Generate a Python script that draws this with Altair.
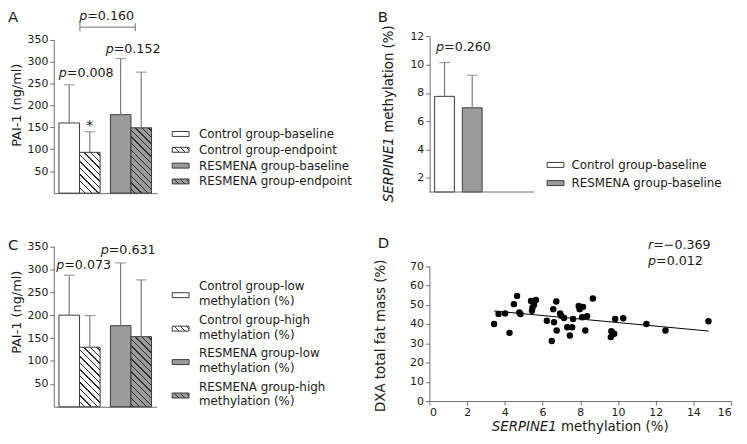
import math
import altair as alt
import pandas as pd

FONT = "DejaVu Sans"
TXT = "#1a1a1a"
AXC = "#6e6e6e"
EDGE = "#3a3a3a"
WHISK = "#7a7a7a"
GRAY = "#9b9b9b"
HATCH = "#2e2e2e"

W_CH, H_CH = 739, 428

# ---------------- data ----------------
groups = ["Control", "Control", "RESMENA", "RESMENA"]
times = ["baseline", "endpoint", "baseline", "endpoint"]

# Panel A: PAI-1 (ng/ml), mean and mean+SD
a_mean = [160, 93, 179, 149]
a_upper = [247, 140, 307, 276]
a_legend = ["Control group-baseline", "Control group-endpoint",
            "RESMENA group-baseline", "RESMENA group-endpoint"]

# Panel B: SERPINE1 methylation (%)
b_groups = ["Control", "RESMENA"]
b_mean = [7.76, 6.95]
b_upper = [10.15, 9.25]
b_legend = ["Control group-baseline", "RESMENA group-baseline"]

# Panel C: PAI-1 by methylation level
c_mean = [200, 130, 177, 153]
c_upper = [287, 199, 314, 277]
c_legend = [["Control group-low", "methylation (%)"],
            ["Control group-high", "methylation (%)"],
            ["RESMENA group-low", "methylation (%)"],
            ["RESMENA group-high", "methylation (%)"]]

# Panel D: scatter
d_meth = [3.43, 3.67, 4.02, 4.25, 4.48, 4.65, 4.77, 4.83, 5.39, 5.47, 5.44, 5.65,
          5.55, 6.23, 6.49, 6.61, 6.57, 6.73, 6.75, 6.93, 6.99, 7.14, 7.31, 7.45,
          7.57, 7.62, 7.92, 7.97, 8.15, 8.10, 8.27, 8.36, 8.67, 9.65, 9.76, 9.62,
          9.85, 9.80, 10.28, 11.51, 12.52, 14.80]
d_fat = [40.0, 45.2, 45.5, 35.4, 50.3, 54.6, 46.0, 45.2, 52.0, 48.6, 46.9, 52.5,
         50.0, 41.7, 31.2, 40.9, 47.7, 51.7, 36.6, 45.5, 44.3, 43.1, 38.3, 34.0,
         38.3, 42.6, 49.4, 47.7, 48.9, 43.5, 36.6, 44.0, 53.2, 36.2, 34.9, 33.2,
         42.6, 35.0, 43.0, 40.0, 36.6, 41.4]

ANN = alt.Data(values=[{"a": 1}])


def hatch_fill(W, H, bg, fg, sp=6.6, lw=1.0):
    L = W + H
    s = L / (W * W + H * H)
    h = lw * math.sqrt(2) / 2 / L
    stops = [{"offset": 0, "color": bg}]
    c = (sp * 0.5) / L
    while c < 1:
        a, b = max(0.0, c - h), min(1.0, c + h)
        stops += [{"offset": a, "color": bg}, {"offset": a, "color": fg},
                  {"offset": b, "color": fg}, {"offset": b, "color": bg}]
        c += sp / L
    stops.append({"offset": 1, "color": bg})
    return {"gradient": "linear", "x1": 1, "y1": 0,
            "x2": 1 - W * s, "y2": H * s, "stops": stops}


def txt(s, x, y, size=12.8, italic=False, align="left", baseline="middle", angle=0):
    kw = dict(font=FONT, fontSize=size, align=align, baseline=baseline, color=TXT)
    if italic:
        kw["fontStyle"] = "italic"
    if angle:
        kw["angle"] = angle
    return alt.Chart(ANN).mark_text(**kw).encode(
        x=alt.value(x), y=alt.value(y), text=alt.value(s))


def stat(letter, rest, x, y, size=12.8):
    w = {"p": 0.635, "r": 0.411}[letter] * size
    return [txt(letter, x, y, size, italic=True), txt(rest, x + w, y, size)]


def rule_px(x1, y1, x2, y2, color=AXC, w=1):
    return alt.Chart(ANN).mark_rule(color=color, strokeWidth=w).encode(
        x=alt.value(x1), x2=alt.value(x2), y=alt.value(y1), y2=alt.value(y2))


def legend_sym(x1, x2, yc, fill):
    return alt.Chart(ANN).mark_rect(fill=fill, stroke=EDGE, strokeWidth=1).encode(
        x=alt.value(x1), x2=alt.value(x2), y=alt.value(yc - 2.5), y2=alt.value(yc + 2.5))


def bar_panel(means, uppers, xr, y0, y1, ymax, xaxis_y):
    df = pd.DataFrame({"group": groups, "time": times, "mean": means, "upper": uppers})
    ppu = (y0 - y1) / ymax
    bw = (xr[1] - xr[0]) / (2 - 0.2 + 2 * 0.1) * 0.8 / 2
    fills = [
        "white",
        hatch_fill(bw, means[1] * ppu, "white", HATCH),
        GRAY,
        hatch_fill(bw, means[3] * ppu, GRAY, HATCH),
    ]
    xenc = alt.X("group:N", scale=alt.Scale(domain=["Control", "RESMENA"], range=list(xr),
                                            paddingInner=0.2, paddingOuter=0.1),
                 axis=alt.Axis(orient="bottom", offset=xaxis_y - H_CH, labels=False,
                               ticks=False, title=None, domainColor=AXC))
    xoff = alt.XOffset("time:N", scale=alt.Scale(domain=["baseline", "endpoint"],
                                                 paddingInner=0, paddingOuter=0))
    ysc = alt.Scale(domain=[0, ymax], range=[y0, y1], nice=False)
    yax = alt.Axis(orient="left", offset=-xr[0], values=list(range(50, 351, 50)), title=None)
    layers = []
    for i in range(4):
        layers.append(
            alt.Chart(df)
            .transform_filter(f"datum.group == '{groups[i]}' && datum.time == '{times[i]}'")
            .mark_bar(fill=fills[i], stroke=EDGE, strokeWidth=1)
            .encode(x=xenc, xOffset=xoff, y=alt.Y("mean:Q", scale=ysc, axis=yax))
        )
    layers.append(
        alt.Chart(df).mark_rule(color=WHISK, strokeWidth=1.2).encode(
            x=xenc, xOffset=xoff, y=alt.Y("mean:Q", scale=ysc, axis=yax), y2="upper:Q"))
    layers.append(
        alt.Chart(df).mark_tick(color=WHISK, size=11, thickness=1.2, orient="horizontal").encode(
            x=xenc, xOffset=xoff, y=alt.Y("upper:Q", scale=ysc, axis=yax)))
    return alt.layer(*layers), fills


layers = []

# ---------- Panel A ----------
panelA, fillsA = bar_panel(a_mean, a_upper, (46.3, 150.3), 184.8, 29.7, 350, 184.8)
layers.append(panelA)

# ---------- Panel C ----------
panelC, fillsC = bar_panel(c_mean, c_upper, (46.3, 150.3), 400.8, 238.7, 350, 400.8)
layers.append(panelC)

# ---------- Panel B ----------
dfb = pd.DataFrame({"group": b_groups, "mean": b_mean, "upper": b_upper})
xb = alt.X("group:N", scale=alt.Scale(domain=b_groups, range=[427.3, 483.3],
                                      paddingInner=8 / 28, paddingOuter=4 / 28), axis=None)
ybsc = alt.Scale(domain=[1, 12], range=[183.7, 26.3], nice=False, zero=False)
ybax = alt.Axis(orient="left", offset=-426.3, values=[2, 4, 6, 8, 10, 12], title=None)
b_layers = []
for g, f in zip(b_groups, ["white", GRAY]):
    b_layers.append(
        alt.Chart(dfb).transform_filter(f"datum.group == '{g}'")
        .mark_bar(fill=f, stroke=EDGE, strokeWidth=1)
        .encode(x=xb, y=alt.Y("mean:Q", scale=ybsc, axis=ybax), y2=alt.datum(1)))
b_layers.append(alt.Chart(dfb).mark_rule(color=WHISK, strokeWidth=1.2).encode(
    x=xb, y=alt.Y("mean:Q", scale=ybsc, axis=ybax), y2="upper:Q"))
b_layers.append(alt.Chart(dfb).mark_tick(color=WHISK, size=11, thickness=1.2, orient="horizontal").encode(
    x=xb, y=alt.Y("upper:Q", scale=ybsc, axis=ybax)))
layers.append(alt.layer(*b_layers))
layers.append(rule_px(426.3, 183.7, 532, 183.7))

# ---------- Panel D ----------
dfd = pd.DataFrame({"meth": d_meth, "fat": d_fat})
xd = alt.X("meth:Q", scale=alt.Scale(domain=[0, 16], range=[426, 731], nice=False),
           axis=alt.Axis(orient="bottom", offset=395 - H_CH, values=list(range(0, 17, 2)), title=None))
yd = alt.Y("fat:Q", scale=alt.Scale(domain=[0, 70], range=[395, 258.7], nice=False),
           axis=alt.Axis(orient="left", offset=-426, values=list(range(0, 71, 10)), title=None))
pts = alt.Chart(dfd).mark_circle(size=42, color="black", opacity=1).encode(x=xd, y=yd)
reg = alt.Chart(dfd).transform_regression("meth", "fat").mark_line(color="black", strokeWidth=1).encode(x=xd, y=yd)
layers.append(alt.layer(pts, reg))

# ---------- annotations ----------
ann = []
ann.append(txt("A", 0, 0, 15, baseline="top"))
ann.append(txt("B", 373.7, 0, 15, baseline="top"))
ann.append(txt("C", 0, 230, 15, baseline="top"))
ann.append(txt("D", 373.7, 228.7, 15, baseline="top"))

ann += stat("p", "=0.160", 72, 6)
ann.append(rule_px(72.7, 17, 128.7, 17))
ann.append(rule_px(72.7, 13, 72.7, 21))
ann.append(rule_px(128.7, 13, 128.7, 21))
ann += stat("p", "=0.008", 51.3, 63.7)
ann += stat("p", "=0.152", 98.7, 39)
ann.append(txt("*", 82.7, 116.5, 14, align="center"))
ann += stat("p", "=0.260", 432.7, 37)
ann += stat("p", "=0.073", 48.7, 257.7)
ann += stat("p", "=0.631", 93.7, 242)
ann += stat("r", "=\u22120.369", 647, 237)
ann += stat("p", "=0.012", 647, 253.7)

# axis titles
ann.append(txt("PAI-1 (ng/ml)", 9, 96, 13, align="center", angle=270))
ann.append(txt("PAI-1 (ng/ml)", 9, 305.3, 13, align="center", angle=270))
ann.append(txt("DXA total fat mass (%)", 377, 329, 13.5, align="center", angle=270))
ann.append(txt("SERPINE1", 385, 194, 13.5, italic=True, angle=270))
ann.append(txt("methylation (%)", 385, 194 - 4.876 * 13.5 - 0.318 * 13.5, 13.5, angle=270))
dx0 = 578.5 - 13.256 * 13.5 / 2
ann.append(txt("SERPINE1", dx0, 421, 13.5, italic=True))
ann.append(txt("methylation (%)", dx0 + (4.876 + 0.318) * 13.5, 421, 13.5))

# legends
legA_fills = ["white", hatch_fill(17, 5, "white", HATCH, sp=6), GRAY, hatch_fill(17, 5, GRAY, HATCH, sp=6)]
for i, lab in enumerate(a_legend):
    yc = 125 + 16 * i
    ann.append(legend_sym(166, 183, yc, legA_fills[i]))
    ann.append(txt(lab, 193, yc, 12))
for i, lab in enumerate(b_legend):
    yc = 156.3 + 18.4 * i
    ann.append(legend_sym(545, 562, yc, ["white", GRAY][i]))
    ann.append(txt(lab, 569.7, yc, 12))
for i, (l1, l2) in enumerate(c_legend):
    y1 = 279 + 33.8 * i
    ann.append(legend_sym(166, 183, y1 + 9, legA_fills[i]))
    ann.append(txt(l1, 193, y1, 12))
    ann.append(txt(l2, 193, y1 + 15, 12))

layers += ann

chart = (
    alt.layer(*layers)
    .resolve_scale(x="independent", y="independent", xOffset="independent")
    .resolve_axis(x="independent", y="independent")
    .properties(width=W_CH, height=H_CH, padding=0, autosize=alt.AutoSizeParams(type="none"))
    .configure_view(strokeWidth=0)
    .configure_axis(labelFont=FONT, labelFontSize=11, labelColor=TXT, domainColor=AXC,
                    tickColor=AXC, tickSize=4, labelPadding=2, grid=False)
)

chart.save("out.html", embed_options={"renderer": "svg", "actions": False})
